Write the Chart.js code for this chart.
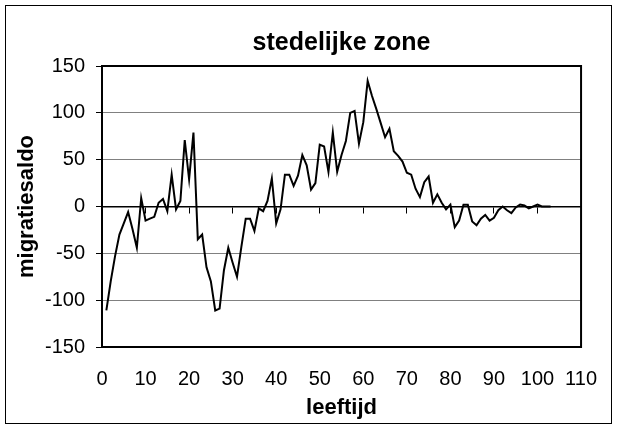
<!DOCTYPE html>
<html><head><meta charset="utf-8">
<script src="https://cdn.jsdelivr.net/npm/chart.js@4"></script>
<style>html,body{margin:0;padding:0;background:#fff}#wrap{width:617px;height:428px}</style>
</head><body><div id="wrap"><canvas id="c" width="617" height="428"></canvas></div>
<script>
const chartTitle = 'stedelijke zone';
const xTitle = 'leeftijd';
const yTitle = 'migratiesaldo';
const ages = [1,2,3,4,5,6,7,8,9,10,11,12,13,14,15,16,17,18,19,20,21,22,23,24,25,26,27,28,29,30,31,32,33,34,35,36,37,38,39,40,41,42,43,44,45,46,47,48,49,50,51,52,53,54,55,56,57,58,59,60,61,62,63,64,65,66,67,68,69,70,71,72,73,74,75,76,77,78,79,80,81,82,83,84,85,86,87,88,89,90,91,92,93,94,95,96,97,98,99,100,101,102,103];
const saldo = [-111,-80,-53,-30,-18,-6,-24,-44,9,-15,
  -13,-11,4,8,-5,34,-3,6,71,29,
  79,-35,-30,-65,-80,-111,-109,-68,-44,-60,
  -75,-43,-13,-13,-26,-2,-5,6,30,-18,
  -3,34,34,22,33,55,44,18,25,66,
  64,37,79,37,55,70,100,102,67,90,
  134,118,104,89,74,83,59,54,48,36,
  34,19,10,26,32,4,13,4,-3,2,
  -22,-15,2,2,-16,-20,-13,-9,-15,-12,
  -4,0,-4,-7,-1,2,1,-2,0,2,
  0,0,0];
const xMin = 0, xMax = 110, xStep = 10;
const yMin = -150, yMax = 150, yStep = 50;

const points = ages.map((a, i) => ({x: a, y: saldo[i]}));
const FONT = '"Liberation Sans", Arial, sans-serif';
Chart.defaults.font.family = FONT;
Chart.defaults.color = '#000';

const frame = {
  id: 'frame',
  beforeDraw(chart) {
    const ctx = chart.ctx;
    ctx.save();
    ctx.fillStyle = '#fff';
    ctx.fillRect(0, 0, chart.width, chart.height);
    ctx.strokeStyle = '#000';
    ctx.lineWidth = 1;
    ctx.strokeRect(5.5, 5.5, 606, 418);
    ctx.restore();
  },
  beforeDatasetsDraw(chart) {
    const {ctx, chartArea: a} = chart;
    ctx.save();
    ctx.strokeStyle = '#000';
    ctx.lineWidth = 2;
    ctx.strokeRect(a.left, a.top, a.right - a.left, a.bottom - a.top);
    ctx.restore();
  }
};

new Chart(document.getElementById('c'), {
  type: 'line',
  data: { datasets: [{ data: points, borderColor: '#000', borderWidth: 2, pointRadius: 0, tension: 0, fill: false, xAxisID: 'x', yAxisID: 'y' }] },
  options: {
    responsive: false, animation: false, devicePixelRatio: 1,
    layout: { padding: { left: 0, right: 34, top: 0, bottom: 0 } },
    plugins: {
      legend: { display: false }, tooltip: { enabled: false },
      title: { display: true, fullSize: false, text: chartTitle, color: '#000', font: { size: 25, weight: 'bold' }, padding: { top: 28, bottom: 8 } }
    },
    scales: {
      x: {
        type: 'linear', position: 'bottom', min: xMin, max: xMax,
        ticks: { stepSize: xStep, font: { size: 20 }, color: '#000', padding: 20, maxRotation: 0, autoSkip: false },
        grid: { drawOnChartArea: false, drawTicks: false },
        border: { display: true, color: '#000', width: 2 },
        title: { display: true, text: xTitle, color: '#000', font: { size: 22, weight: 'bold' }, padding: { top: 0, bottom: 7 } },
        afterFit(s) { s.height = 81; }
      },
      x0: {
        type: 'linear', position: { y: 0 }, min: xMin, max: xMax,
        ticks: { display: false, stepSize: xStep },
        grid: { drawOnChartArea: false, drawTicks: true, tickLength: 6, color: '#000', lineWidth: 1 },
        border: { display: true, color: '#000', width: 1.5 }
      },
      y: {
        type: 'linear', position: 'left', min: yMin, max: yMax,
        ticks: { stepSize: yStep, font: { size: 20 }, color: '#000', padding: 11 },
        grid: { color: '#808080', lineWidth: 1, tickLength: 6, tickColor: '#000' },
        border: { display: true, color: '#000', width: 2 },
        title: { display: true, text: yTitle, color: '#000', font: { size: 22, weight: 'bold' }, padding: { top: 14, bottom: 0 } },
        afterFit(s) { s.width = 102; }
      }
    }
  },
  plugins: [frame]
});
</script>
</body></html>
